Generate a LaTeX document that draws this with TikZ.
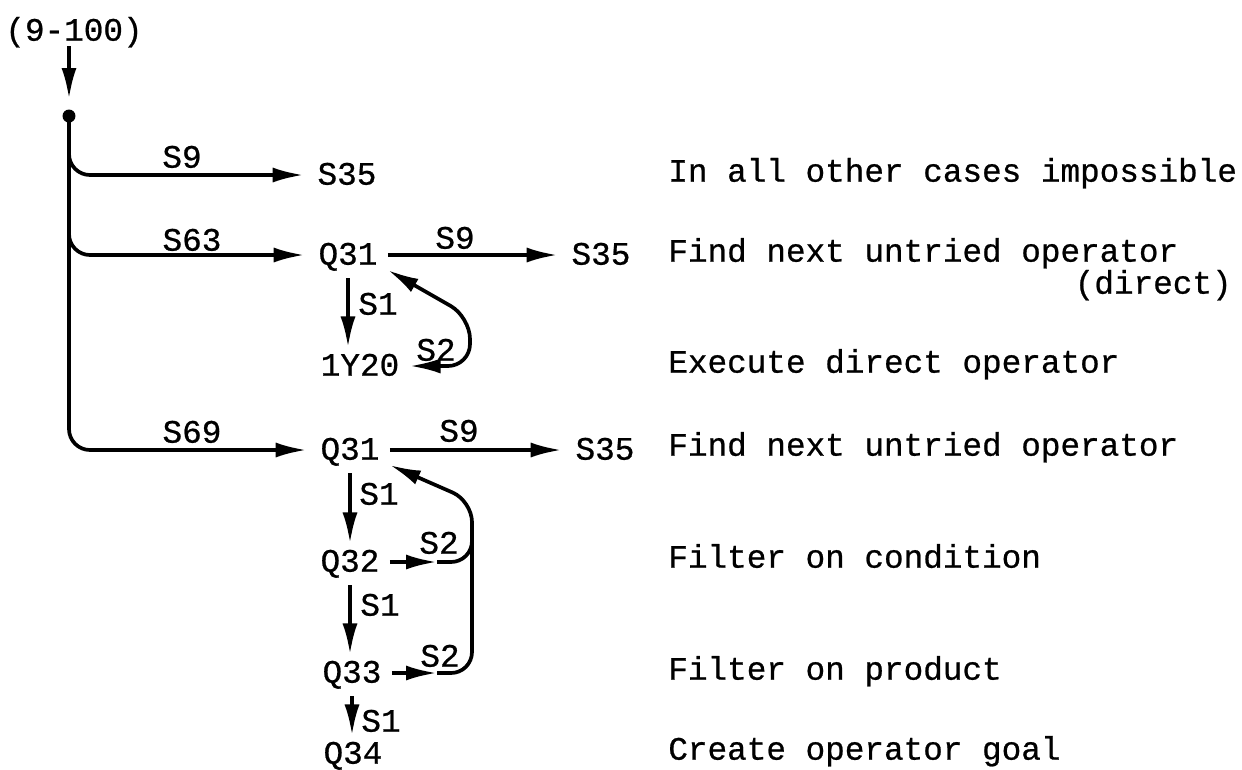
\documentclass[tikz,border=0pt]{standalone}
\usepackage{fontspec}
\setmainfont{Liberation Mono}[FakeBold=0.7]
\usepackage{tikz}
\usetikzlibrary{arrows.meta}

\begin{document}
\begin{tikzpicture}[x=0.02cm, y=-0.02cm,
    txt/.style={font=\fontsize{18.6}{22}\selectfont, text height=11pt, text depth=0pt},
    lbl/.style={txt, inner xsep=0.2cm, inner ysep=0.1cm},
    tag/.style={txt, inner sep=0pt},
    note/.style={txt, inner sep=0pt, anchor=west},
    line/.style={line width=2.1pt},
    lance/.tip={Latex[length=0.62cm, width=0.3cm]},
    tip/.style={-lance},
    arr/.style={line, tip, shorten >=2pt},
    drop/.style={arr, shorten <=0.16cm},
    branch/.style={arr, rounded corners=0.42cm}]
    \useasboundingbox (0,0) rectangle (1242,769);

    % Entry point
    \node[lbl] (entry) at (74,31) {(9-100)};
    \coordinate (dot) at (69,116);
    \fill (dot) circle (0.13cm);
    \draw[arr, shorten >=0.34cm] (entry.south -| dot) -- (dot);

    % Chain of routines
    \node[lbl] (s35a) at (347,175) {S35};
    \node[lbl] (q31a) at (348,255) {Q31};
    \node[lbl] (s35b) at (601,255) {S35};
    \node[lbl] (y20) at (360,366) {1Y20};
    \node[lbl] (q31b) at (350,450) {Q31};
    \node[lbl] (s35c) at (605,450) {S35};
    \node[lbl] (q32) at (350,562) {Q32};
    \node[lbl] (q33) at (352,673) {Q33};
    \node[lbl] (q34) at (353,754) {Q34};

    % Branches off the trunk
    \draw[branch] (dot) |- (s35a.west);
    \draw[branch] (dot) |- (q31a.west);
    \draw[branch] (dot) |- (q31b.west);

    % S9 exits
    \draw[arr] (q31a.east) -- (s35b.west);
    \draw[arr] (q31b.east) -- (s35c.west);

    % S1 steps
    \draw[drop] (q31a.south) -- (q31a.south |- y20.north);
    \draw[drop] (q31b.south) -- (q31b.south |- q32.north);
    \draw[drop] (q32.south) -- (q32.south |- q33.north);
    \draw[drop] (q33.south) -- (q33.south |- q34.north);

    % S2 loops back to Q31
    \coordinate (ka) at (470,317);
    \draw[line, lance-lance, rounded corners=0.44cm]
        (y20.east) -| (ka) -- (q31a.south east);

    \coordinate (kb) at (472,501);
    \coordinate (kc) at (472,530);
    \coordinate (m32) at (437,562);
    \coordinate (m33) at (437,673);
    \draw[arr, shorten >=0pt] (q32.east) -- (m32);
    \draw[arr, shorten >=0pt] (q33.east) -- (m33);
    \draw[line, rounded corners=0.42cm] (m32) -| (kc);
    \draw[line, tip, rounded corners=0.42cm] (m33) -| (kb) -- (q31b.south east);

    % Edge labels
    \node[tag] (l9a) at (182,158) {S9};
    \node[tag] (l63) at (192,241) {S63};
    \node[tag] (l9b) at (455,239) {S9};
    \node[tag] (l1a) at (378,305) {S1};
    \node[tag] (l2a) at (436,351) {S2};
    \node[tag] (l69) at (192,433) {S69};
    \node[tag] (l9c) at (459,432) {S9};
    \node[tag] (l1b) at (379,495) {S1};
    \node[tag] (l2b) at (439,544) {S2};
    \node[tag] (l1c) at (380,606) {S1};
    \node[tag] (l2c) at (440,657) {S2};
    \node[tag] (l1d) at (381,722) {S1};

    % Comments
    \node[note] (c1) at (668,172) {In all other cases impossible};
    \node[note] (c2) at (668,252) {Find next untried operator};
    \node[note, anchor=east] (c2b) at (1232,284) {(direct)};
    \node[note] (c3) at (668,363) {Execute direct operator};
    \node[note] (c4) at (668,446) {Find next untried operator};
    \node[note] (c5) at (668,558) {Filter on condition};
    \node[note] (c6) at (668,670) {Filter on product};
    \node[note] (c7) at (668,750) {Create operator goal};
\end{tikzpicture}
\end{document}
